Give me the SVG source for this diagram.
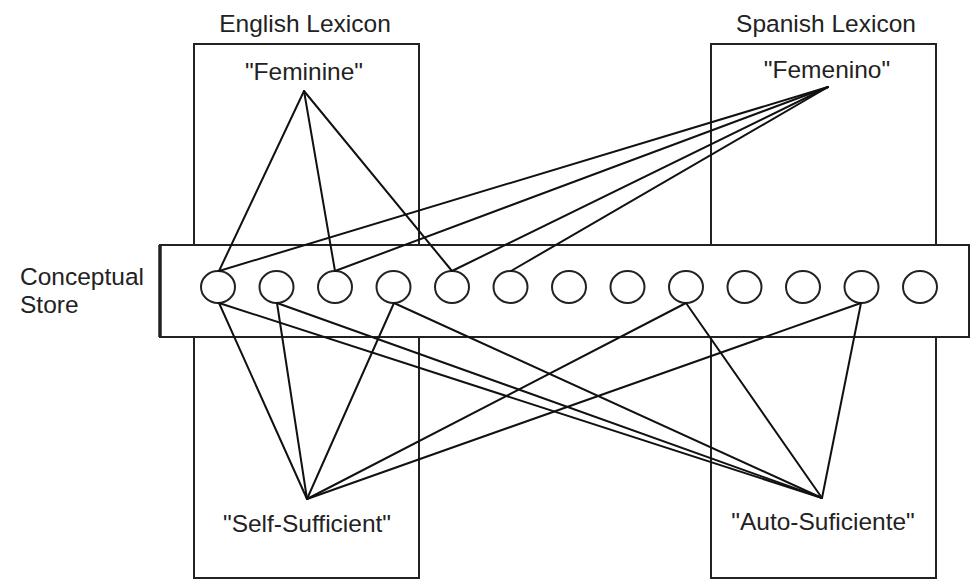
<svg xmlns="http://www.w3.org/2000/svg" width="975" height="580" viewBox="0 0 975 580">
<style>
.box{fill:none;stroke:#222;stroke-width:2}
.store{fill:#fff;stroke:#222;stroke-width:2}
.c{fill:#fff;stroke:#222;stroke-width:2}
.ln{stroke:#111;stroke-width:2;fill:none;stroke-linecap:round}
text{font-family:"Liberation Sans",Arial,sans-serif;font-size:24.5px;fill:#222}
.m{text-anchor:middle}
</style>
<rect width="975" height="580" fill="#fff"/>
<g id="english-lexicon">
<rect class="box" x="194" y="44" width="225" height="534"/>
<text class="m" x="305" y="32">English Lexicon</text>
</g>
<g id="spanish-lexicon">
<rect class="box" x="711" y="44" width="225" height="534"/>
<text class="m" x="826" y="32">Spanish Lexicon</text>
</g>
<g id="conceptual-store">
<rect class="store" x="160" y="245" width="809" height="92"/>
<line x1="160" y1="245" x2="160" y2="337" stroke="#222" stroke-width="3.5"/>
<text x="20" y="285">Conceptual</text>
<text x="20" y="313">Store</text>
</g>
<g id="word-feminine"><text class="m" x="304" y="80">"Feminine"</text></g>
<g id="word-femenino"><text class="m" x="827" y="78">"Femenino"</text></g>
<g id="word-self-sufficient"><text class="m" x="307" y="532">"Self-Sufficient"</text></g>
<g id="word-auto-suficiente"><text class="m" x="823" y="530">"Auto-Suficiente"</text></g>
<g id="concepts">
<g id="c1"><ellipse class="c" cx="218" cy="287" rx="17" ry="16"/></g>
<g id="c2"><ellipse class="c" cx="276.5" cy="287" rx="17" ry="16"/></g>
<g id="c3"><ellipse class="c" cx="335" cy="287" rx="17" ry="16"/></g>
<g id="c4"><ellipse class="c" cx="393.5" cy="287" rx="17" ry="16"/></g>
<g id="c5"><ellipse class="c" cx="452" cy="287" rx="17" ry="16"/></g>
<g id="c6"><ellipse class="c" cx="510.5" cy="287" rx="17" ry="16"/></g>
<g id="c7"><ellipse class="c" cx="569" cy="287" rx="17" ry="16"/></g>
<g id="c8"><ellipse class="c" cx="627.5" cy="287" rx="17" ry="16"/></g>
<g id="c9"><ellipse class="c" cx="686" cy="287" rx="17" ry="16"/></g>
<g id="c10"><ellipse class="c" cx="744.5" cy="287" rx="17" ry="16"/></g>
<g id="c11"><ellipse class="c" cx="803" cy="287" rx="17" ry="16"/></g>
<g id="c12"><ellipse class="c" cx="861.5" cy="287" rx="17" ry="16"/></g>
<g id="c13"><ellipse class="c" cx="920" cy="287" rx="17" ry="16"/></g>
</g>
<g id="connectors">
<line class="ln" x1="304" y1="91" x2="219" y2="271"/>
<line class="ln" x1="304" y1="91" x2="335" y2="271"/>
<line class="ln" x1="304" y1="91" x2="452" y2="271"/>
<line class="ln" x1="828" y1="87" x2="219" y2="271"/>
<line class="ln" x1="828" y1="87" x2="335" y2="271"/>
<line class="ln" x1="828" y1="87" x2="452" y2="271"/>
<line class="ln" x1="828" y1="87" x2="511" y2="271"/>
<line class="ln" x1="307" y1="499" x2="219" y2="303"/>
<line class="ln" x1="307" y1="499" x2="277" y2="303"/>
<line class="ln" x1="307" y1="499" x2="394" y2="303"/>
<line class="ln" x1="307" y1="499" x2="686" y2="303"/>
<line class="ln" x1="307" y1="499" x2="861" y2="303"/>
<line class="ln" x1="822" y1="498" x2="219" y2="303"/>
<line class="ln" x1="822" y1="498" x2="277" y2="303"/>
<line class="ln" x1="822" y1="498" x2="394" y2="303"/>
<line class="ln" x1="822" y1="498" x2="686" y2="303"/>
<line class="ln" x1="822" y1="498" x2="861" y2="303"/>
</g>
</svg>
